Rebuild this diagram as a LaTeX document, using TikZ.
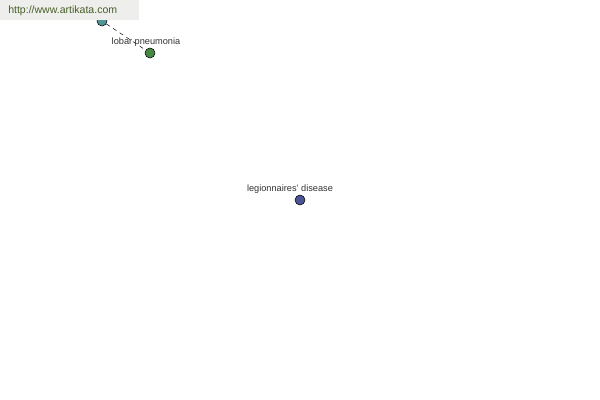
\documentclass[tikz,border=0pt]{standalone}
\usepackage{fontspec}
\setmainfont{Liberation Sans}
\definecolor{tealdot}{RGB}{80,150,150}
\definecolor{greendot}{RGB}{70,135,65}
\definecolor{bluedot}{RGB}{75,85,150}
\definecolor{urlgreen}{RGB}{70,95,40}
\definecolor{bannerbg}{RGB}{238,238,236}
\begin{document}
\begin{tikzpicture}[x=0.75pt,y=-0.75pt,
  dot/.style={circle,draw=black,line width=0.4pt,minimum size=7.5pt,inner sep=0pt},
  lbl/.style={font=\fontsize{6.9}{7.5}\selectfont,text=black!80,inner sep=0pt},
  link/.style={line width=0.4pt,dash pattern=on 3pt off 3pt}]
\useasboundingbox[fill=white] (0,0) rectangle (600,400);
\node[dot,fill=tealdot] (lob0) at (102,21) {};
\node[dot,fill=greendot] (lob) at (150,53) {};
\node[dot,fill=bluedot] (leg) at (300,200) {};
\draw[link] (lob0) -- (lob);
\node[lbl] (lobl) at (146,42) {lobar pneumonia};
\node[lbl] (legl) at (290,189) {legionnaires’ disease};
\fill[bannerbg] (0,0) rectangle (139,20);
\node[font=\fontsize{7.9}{9}\selectfont,text=urlgreen,anchor=west,inner sep=0pt] (url) at (8,11) {http://www.artikata.com};
\end{tikzpicture}
\end{document}
